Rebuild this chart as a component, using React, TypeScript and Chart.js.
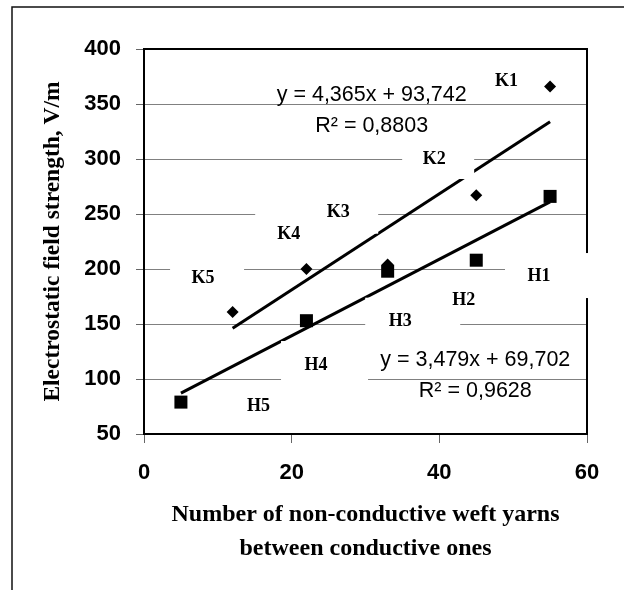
import React, { useEffect, useRef } from "react";
import { Chart, registerables } from "chart.js";

Chart.register(...registerables);

// ---- data ----
const kNames = ["K1", "K2", "K3", "K4", "K5"];
const kX = [55, 45, 33, 22, 12];
const kY = [366, 267, 204, 200, 161];

const hNames = ["H1", "H2", "H3", "H4", "H5"];
const hX = [55, 45, 33, 22, 5];
const hY = [266, 208, 198, 153, 79];

const kSlope = 4.365;
const kIntercept = 93.742;
const kEquation = ["y = 4,365x + 93,742", "R² = 0,8803"];
const hSlope = 3.479;
const hIntercept = 69.702;
const hEquation = ["y = 3,479x + 69,702", "R² = 0,9628"];

const xTicks = [0, 20, 40, 60];
const yTicks = [50, 100, 150, 200, 250, 300, 350, 400];

const xTitle = ["Number of non-conductive weft yarns", "between conductive ones"];
const yTitle = "Electrostatic field strength, V/m";

// label anchor positions (data units)
const kLabelX = [49.1, 39.3, 26.3, 19.6, 8.0];
const kLabelY = [370.3, 300, 251.2, 231.4, 191.5];
const hLabelX = [53.5, 43.3, 34.7, 23.3, 15.5];
const hLabelY = [193.6, 171.8, 152.1, 112.7, 74.8];
// equation anchor positions (data units)
const kEqPos = [30.84, 357.7];
const hEqPos = [44.87, 117.3];

// ---- styling ----
// white boxes behind labels, offsets in px relative to label centre: [left, right, top, bottom]
const kBoxes: (number[] | null)[] = [null, [-32, 40, -20, 20], [-83, 40, -21, 21], null, [-33, 41, -20, 20]];
const hBoxes: (number[] | null)[] = [[-34, 53, -23, 22], null, [-35, 60, -24, 24], [-35, 52, -24, 25], null];

const SANS = "'Liberation Sans', Arial, sans-serif";
const SERIF = "'Liberation Serif', 'Times New Roman', serif";

const overlay = {
  id: "overlay",
  beforeDraw(chart: any) {
    const ctx = chart.ctx;
    ctx.save();
    ctx.strokeStyle = "#111";
    ctx.lineWidth = 1.5;
    ctx.beginPath();
    ctx.moveTo(12, 590);
    ctx.lineTo(12, 7);
    ctx.lineTo(624, 7);
    ctx.stroke();
    ctx.restore();
  },
  beforeDatasetsDraw(chart: any) {
    const { ctx, chartArea: ca } = chart;
    ctx.save();
    ctx.strokeStyle = "#000";
    ctx.lineWidth = 2;
    ctx.strokeRect(ca.left, ca.top, ca.right - ca.left, ca.bottom - ca.top);
    ctx.restore();
  },
  afterDatasetsDraw(chart: any) {
    const { ctx } = chart;
    const xs = chart.scales.x;
    const ys = chart.scales.y;
    const labels = [
      ...kNames.map((n, i) => ({ n, x: kLabelX[i], y: kLabelY[i], box: kBoxes[i] })),
      ...hNames.map((n, i) => ({ n, x: hLabelX[i], y: hLabelY[i], box: hBoxes[i] })),
    ];
    ctx.save();
    ctx.fillStyle = "#fff";
    labels.forEach((l) => {
      if (!l.box) return;
      const px = xs.getPixelForValue(l.x);
      const py = ys.getPixelForValue(l.y);
      ctx.fillRect(px + l.box[0], py + l.box[2], l.box[1] - l.box[0], l.box[3] - l.box[2]);
    });
    ctx.fillStyle = "#000";
    ctx.textAlign = "center";
    ctx.textBaseline = "middle";
    ctx.font = `bold 18px ${SERIF}`;
    labels.forEach((l) => {
      ctx.fillText(l.n, xs.getPixelForValue(l.x), ys.getPixelForValue(l.y));
    });
    ctx.font = `21.5px ${SANS}`;
    [
      { pos: kEqPos, txt: kEquation },
      { pos: hEqPos, txt: hEquation },
    ].forEach((e) => {
      const px = xs.getPixelForValue(e.pos[0]);
      const py = ys.getPixelForValue(e.pos[1]);
      e.txt.forEach((t, i) => ctx.fillText(t, px, py + i * 31));
    });
    ctx.restore();
  },
};

export default function App() {
  const ref = useRef<HTMLCanvasElement>(null);
  useEffect(() => {
    const canvas = ref.current!;
    const kMin = Math.min(...kX), kMax = Math.max(...kX);
    const hMin = Math.min(...hX), hMax = Math.max(...hX);
    const chart = new Chart(canvas, {
      type: "scatter",
      data: {
        datasets: [
          {
            label: "K",
            data: kX.map((x, i) => ({ x, y: kY[i] })),
            pointStyle: "rectRot",
            pointRadius: 6,
            backgroundColor: "#000",
            borderColor: "#000",
            borderWidth: 0,
          },
          {
            label: "H",
            data: hX.map((x, i) => ({ x, y: hY[i] })),
            pointStyle: "rect",
            pointRadius: 9.2,
            backgroundColor: "#000",
            borderColor: "#000",
            borderWidth: 0,
          },
          {
            label: "K trend",
            data: [
              { x: kMin, y: kSlope * kMin + kIntercept },
              { x: kMax, y: kSlope * kMax + kIntercept },
            ],
            showLine: true,
            borderColor: "#000",
            borderWidth: 3,
            pointRadius: 0,
          },
          {
            label: "H trend",
            data: [
              { x: hMin, y: hSlope * hMin + hIntercept },
              { x: hMax, y: hSlope * hMax + hIntercept },
            ],
            showLine: true,
            borderColor: "#000",
            borderWidth: 3,
            pointRadius: 0,
          },
        ] as any,
      },
      options: {
        responsive: false,
        animation: false,
        devicePixelRatio: 1,
        layout: { padding: { top: 49, right: 37, left: 0, bottom: 0 } },
        plugins: { legend: { display: false }, tooltip: { enabled: false } },
        scales: {
          x: {
            type: "linear",
            min: 0,
            max: 60,
            afterBuildTicks: (s: any) => {
              s.ticks = xTicks.map((v) => ({ value: v }));
            },
            ticks: { color: "#000", font: { family: SANS, size: 22, weight: "bold" }, padding: 17 },
            grid: { drawOnChartArea: false, tickLength: 9, tickColor: "#666", lineWidth: 1 },
            border: { display: false },
            title: {
              display: true,
              text: xTitle,
              color: "#000",
              font: { family: SERIF, size: 24, weight: "bold", lineHeight: 1.42 },
              padding: { top: 0, bottom: 24 },
            },
            afterFit: (s: any) => {
              s.height = 156;
            },
          },
          y: {
            type: "linear",
            min: 50,
            max: 400,
            afterBuildTicks: (s: any) => {
              s.ticks = yTicks.map((v) => ({ value: v }));
            },
            ticks: { color: "#000", font: { family: SANS, size: 22, weight: "bold" }, padding: 15 },
            grid: { color: "#808080", lineWidth: 1, tickLength: 8, tickColor: "#666" },
            border: { display: false },
            title: {
              display: true,
              text: yTitle,
              color: "#000",
              font: { family: SERIF, size: 23.5, weight: "bold" },
              padding: { top: 39, bottom: 0 },
            },
            afterFit: (s: any) => {
              s.width = 144;
            },
          },
        },
      } as any,
      plugins: [overlay],
    });
    return () => chart.destroy();
  }, []);
  return (
    <div style={{ position: "absolute", left: 0, top: 0, width: 624, height: 590, background: "#fff" }}>
      <canvas ref={ref} width={624} height={590} style={{ display: "block" }} />
    </div>
  );
}
